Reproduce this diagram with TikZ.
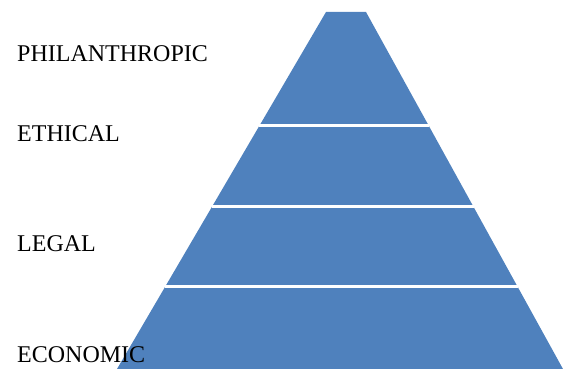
\documentclass[tikz,border=0pt]{standalone}
\usepackage{fontspec}
\setmainfont{Liberation Serif}
\usetikzlibrary{calc}
\definecolor{layerblue}{HTML}{4F81BD}
\begin{document}
\begin{tikzpicture}[
    x=1pt,y=-1pt,
    layer/.style={
        fill=layerblue,
        draw=none
    },
    gap/.style={
        draw=white,
        line width=3pt
    },
    level/.style={
        anchor=base west,
        inner sep=0pt,
        font=\fontsize{24}{28}\selectfont
    }
]
    \useasboundingbox (0,0) rectangle (563,369);

    % pyramid
    \coordinate (tl) at (326,12);
    \coordinate (tr) at (366,12);
    \coordinate (bl) at (117,369);
    \coordinate (br) at (563,369);
    \fill[layer] (tl) -- (tr) -- (br) -- (bl) -- cycle;

    % separators
    \foreach \t in {0.319,0.546,0.770}
        \draw[gap] ($(tl)!\t!(bl)$) -- ($(tr)!\t!(br)$);

    % labels
    \node[level] (phil) at (17,62) {PHILANTHROPIC};
    \node[level] (eth) at (17,142) {ETHICAL};
    \node[level] (leg) at (17,251) {LEGAL};
    \node[level] (eco) at (17,362) {ECONOMIC};

\end{tikzpicture}
\end{document}
